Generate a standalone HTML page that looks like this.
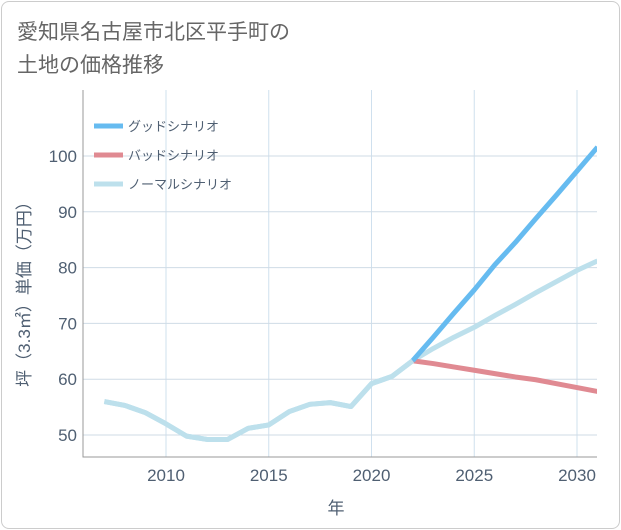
<!DOCTYPE html>
<html><head><meta charset="utf-8">
<style>
body{margin:0;background:#fff;font-family:"Liberation Sans","Noto Sans CJK JP",sans-serif;}
#card{position:absolute;left:1px;top:1px;width:617px;height:526px;border:1px solid #ccc;border-radius:8px;background:#fff;}
#title{position:absolute;left:17px;top:16px;font-size:21px;line-height:33px;color:#666;}
svg{position:absolute;left:0;top:0}
text{font-family:"Liberation Sans","Noto Sans CJK JP",sans-serif;}
</style></head><body>
<div id="card"></div>
<div id="title">愛知県名古屋市北区平手町の<br>土地の価格推移</div>
<svg id="chart" width="621" height="530"></svg>
<script>
const years=[2007,2008,2009,2010,2011,2012,2013,2014,2015,2016,2017,2018,2019,2020,2021,2022,2023,2024,2025,2026,2027,2028,2029,2030,2031];
const normalVals=[56,55.3,54,52,49.8,49.2,49.2,51.2,51.8,54.2,55.5,55.8,55.1,59.2,60.5,63.3,65.5,67.5,69.3,71.4,73.4,75.5,77.5,79.5,81.2];
const scenarioYears=[2022,2023,2024,2025,2026,2027,2028,2029,2030,2031];
const goodVals=[63.3,67.5,71.8,76,80.5,84.5,88.8,93,97.3,101.6];
const badVals=[63.3,62.8,62.2,61.6,61,60.4,59.9,59.2,58.5,57.8];
const xTicks=[2010,2015,2020,2025,2030];
const yTicks=[50,60,70,80,90,100];
const legendLabels=["グッドシナリオ","バッドシナリオ","ノーマルシナリオ"];
const svg=document.getElementById('chart');const NS='http://www.w3.org/2000/svg';
const L=83,R=597,T=90,B=457;
const TC='#4f5f72';
function X(y){return 166+(y-2010)*20.55;}
function Y(v){return 435-(v-50)*5.58;}
function mk(t,a,p){const e=document.createElementNS(NS,t);for(const k in a)e.setAttribute(k,a[k]);(p||svg).appendChild(e);return e;}
const clip=mk('clipPath',{id:'c'});mk('rect',{x:L,y:T,width:R-L,height:B-T},clip);
xTicks.forEach(t=>{const l=mk('line',{x1:X(t),x2:X(t),y1:T,y2:B,stroke:'#cfe0ee','stroke-width':1});


const tx=mk('text',{x:X(t),y:B+24,'text-anchor':'middle','font-size':17,fill:TC});tx.textContent=t;

});
yTicks.forEach(t=>{const l=mk('line',{x1:L,x2:R,y1:Y(t),y2:Y(t),stroke:'#cfdbe6','stroke-width':1});


const tx=mk('text',{x:L-6,y:Y(t)+6,'text-anchor':'end','font-size':17,fill:TC});tx.textContent=t;

});
mk('path',{d:`M${L} ${T}V${B}H${R}`,fill:'none',stroke:'#999','stroke-width':1});
function line(xs,vs,col,name){const p=mk('path',{d:xs.map((y,i)=>(i?'L':'M')+X(y)+' '+Y(vs[i])).join(''),fill:'none',stroke:col,'stroke-width':5,'stroke-linejoin':'round','clip-path':'url(#c)'});

}
line(years,normalVals,'#bde0ec','normal-scenario-line');
line(scenarioYears,badVals,'#e08a92','bad-scenario-line');
line(scenarioYears,goodVals,'#66bbf0','good-scenario-line');
line(years.slice(0,16),normalVals.slice(0,16),'#bde0ec','normal-history-line');
const lc=['#66bbf0','#e08a92','#bde0ec'];
legendLabels.forEach((s,i)=>{const y=126+i*29;const g=mk('g',{});


mk('line',{x1:94,x2:123,y1:y,y2:y,stroke:lc[i],'stroke-width':5},g);
const t=mk('text',{x:128,y:y+5,'font-size':13,fill:TC},g);t.textContent=s;});
const xt=mk('text',{x:336,y:514,'text-anchor':'middle','font-size':17,fill:TC});xt.textContent='年';


const yt=mk('text',{x:0,y:0,'text-anchor':'middle','font-size':17,fill:TC,transform:'translate(30,290) rotate(-90)'});yt.textContent='坪（3.3㎡）単価（万円）';


</script>
</body></html>
